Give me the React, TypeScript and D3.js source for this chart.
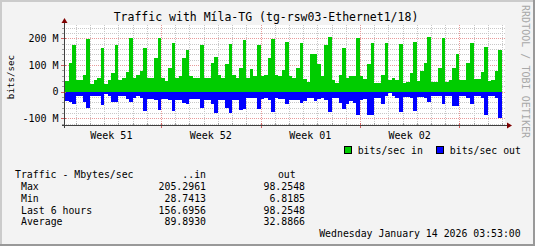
import React from "react";
import * as d3 from "d3";

const W = 535;
const H = 246;

const title = "Traffic with Míla-TG (tg-rsw03-Ethernet1/18)";
const yAxisLabel = "bits/sec";
const watermark = "RRDTOOL / TOBI OETIKER";
const seriesNames = ["bits/sec in", "bits/sec out"];
const seriesColors = ["#00cc00", "#0000ff"];

// 6-hour averages, Mbit/s
const inMbps = [
  40, 109, 175,
  44, 44, 62, 198,
  29, 44, 50, 165,
  30, 44, 69, 175,
  44, 50, 75, 200,
  50, 62, 77, 165,
  52, 50, 127, 202,
  51, 40, 90, 183,
  52, 57, 127, 156,
  58, 50, 50, 175,
  50, 50, 106, 130,
  62, 52, 103, 178,
  62, 52, 90, 195,
  50, 86, 60, 175,
  58, 62, 127, 198,
  62, 58, 80, 187,
  57, 50, 90, 181,
  48, 38, 140, 140,
  103, 58, 175, 204,
  44, 34, 62, 165,
  50, 60, 58, 202,
  60, 48, 103, 181,
  34, 34, 62, 181,
  44, 50, 44, 178,
  34, 38, 69, 187,
  40, 77, 106, 205.3,
  38, 38, 88, 200,
  38, 44, 88, 140,
  44, 44, 106, 181,
  48, 48, 75, 169,
  40, 44, 77, 156.7,
];

const outMbps = [
  35, 40, 45,
  15, 15, 38, 62,
  15, 15, 15, 50,
  10, 15, 40, 40,
  15, 15, 28, 37,
  22, 18, 22, 71,
  28, 28, 30, 70,
  28, 28, 30, 72,
  32, 32, 42, 48,
  28, 28, 28, 60,
  32, 32, 45, 81,
  32, 32, 60, 81,
  30, 30, 70, 65,
  25, 25, 25, 65,
  28, 25, 30, 78,
  25, 28, 28, 48,
  32, 32, 32, 44,
  34, 25, 22, 35,
  28, 22, 30, 76,
  25, 25, 42, 65,
  48, 35, 42, 87,
  33, 28, 87, 87,
  22, 22, 45, 15,
  6.8, 18, 25, 78,
  20, 20, 25, 72,
  20, 20, 25, 40,
  16, 16, 16, 45,
  18, 18, 52, 52,
  16, 16, 25, 45,
  16, 16, 22, 87,
  18, 18, 25, 98.25,
];

const yMajorTicks = [-100, 0, 100, 200];
const yMajorLabels = ["-100 M", "0", "100 M", "200 M"];
const yMinorStep = 20;

const statHeader = ["Traffic - Mbytes/sec", "..in", "out"];
const statRows = ["Max", "Min", "Last 6 hours", "Average"];
const statIn = ["205.2961", "28.7413", "156.6956", "89.8930"];
const statOut = ["98.2548", "6.8185", "98.2548", "32.8866"];
const timestamp = "Wednesday January 14 2026 03:53:00";

const viewStart = new Date(Date.UTC(2025, 11, 15, 4));
const viewEnd = new Date(Date.UTC(2026, 0, 15, 0));
const stepMs = 6 * 3600 * 1000;

const MONO = "'DejaVu Sans Mono', monospace";

export default function App() {
  const x = d3.scaleUtc().domain([viewStart, viewEnd]).range([64, 502]);
  const y = d3.scaleLinear().domain([-125, 250]).range([125, 25]);
  const X0 = 64;
  const X1 = 502;
  const Y0 = 125;
  const Y1 = 25;

  const n = inMbps.length;
  const times = d3.range(n + 1).map((i) => new Date(viewEnd.getTime() - (n - i) * stepMs));
  const inPts = times.map((t, i) => ({ t, v: inMbps[Math.min(i, n - 1)] }));
  const outPts = times.map((t, i) => ({ t, v: outMbps[Math.min(i, n - 1)] }));

  const areaIn = d3
    .area<{ t: Date; v: number }>()
    .x((d) => Math.round(x(d.t)))
    .y0(() => Math.round(y(0)))
    .y1((d) => Math.round(y(d.v)))
    .curve(d3.curveStepAfter);
  const areaOut = d3
    .area<{ t: Date; v: number }>()
    .x((d) => Math.round(x(d.t)))
    .y0(() => Math.round(y(0)))
    .y1((d) => Math.round(y(-d.v)))
    .curve(d3.curveStepAfter);

  const weeks = d3.utcMonday.range(d3.utcMonday.floor(viewStart), viewEnd);
  const weekSet = new Set(weeks.map((d) => d.getTime()));
  const days = d3.utcDay
    .range(d3.utcDay.ceil(viewStart), new Date(viewEnd.getTime() + 1))
    .filter((d) => !weekSet.has(d.getTime()));
  const majorV = weeks.filter((d) => x(d) > X0);
  const weekFmt = d3.utcFormat("%V");
  const weekLabels = weeks
    .map((d) => ({ d, c: x(new Date(d.getTime() + 3.5 * 86400000)) }))
    .filter((o) => o.c > X0 && o.c < X1);

  const minorH = d3.range(-120, 250, yMinorStep).filter((v) => v % 100 !== 0);

  const px = (v: number) => Math.round(v) + 0.5;
  const gridMinor = "#c8c8c8";
  const gridMajor = "#e89a9a";

  return (
    <div style={{ position: "fixed", left: 0, top: 0 }}>
      <svg width={W} height={H} xmlns="http://www.w3.org/2000/svg" style={{ display: "block" }}>
        <rect x={0} y={0} width={W} height={H} fill="#f3f3f3" />
        {/* frame shading */}
        <rect x={0} y={0} width={W} height={2} fill="#cbcbcb" />
        <rect x={0} y={0} width={2} height={H} fill="#cbcbcb" />
        <rect x={W - 2} y={0} width={2} height={H} fill="#999999" />
        <rect x={0} y={H - 2} width={W} height={2} fill="#999999" />

        {/* canvas */}
        <rect x={X0} y={Y1} width={X1 - X0 + 3} height={Y0 - Y1} fill="#ffffff" />

        {/* grid */}
        <g shapeRendering="crispEdges" strokeWidth={1} strokeDasharray="1,1">
          {minorH.map((v) => (
            <line key={"mh" + v} x1={X0} x2={X1 + 3} y1={px(y(v))} y2={px(y(v))} stroke={gridMinor} />
          ))}
          {days.map((d) => (
            <line key={"md" + d.getTime()} x1={px(x(d))} x2={px(x(d))} y1={Y1} y2={Y0} stroke={gridMinor} />
          ))}
          {yMajorTicks.map((v) => (
            <line key={"Mh" + v} x1={X0} x2={X1 + 3} y1={px(y(v))} y2={px(y(v))} stroke={gridMajor} />
          ))}
          {majorV.map((d) => (
            <line key={"Mv" + d.getTime()} x1={px(x(d))} x2={px(x(d))} y1={Y1} y2={Y0} stroke={gridMajor} />
          ))}
        </g>

        {/* data */}
        <g shapeRendering="crispEdges">
          <path d={areaIn(inPts) || ""} fill={seriesColors[0]} />
          <path d={areaOut(outPts) || ""} fill={seriesColors[1]} />
        </g>

        {/* axis ticks */}
        <g shapeRendering="crispEdges" strokeWidth={1}>
          {days.map((d) => (
            <line key={"td" + d.getTime()} x1={px(x(d))} x2={px(x(d))} y1={Y0 - 2} y2={Y0} stroke="#a0a0a0" />
          ))}
          {majorV.map((d) => (
            <line key={"tM" + d.getTime()} x1={px(x(d))} x2={px(x(d))} y1={Y0 - 2} y2={Y0 + 3} stroke="#d06060" />
          ))}
          {minorH.map((v) => (
            <line key={"ty" + v} x1={X0 - 2} x2={X0} y1={px(y(v))} y2={px(y(v))} stroke="#a0a0a0" />
          ))}
          {yMajorTicks.map((v) => (
            <line key={"tyM" + v} x1={X0 - 3} x2={X0 + 2} y1={px(y(v))} y2={px(y(v))} stroke="#d06060" />
          ))}
        </g>

        {/* axes */}
        <g shapeRendering="crispEdges">
          <line x1={X0 - 2} x2={X1 + 5} y1={Y0 + 0.5} y2={Y0 + 0.5} stroke="#404040" />
          <line x1={X0 + 0.5} x2={X0 + 0.5} y1={Y0 + 3} y2={Y1 - 4} stroke="#404040" />
        </g>
        <path d={`M${X1 + 5},${Y0 - 2.5} L${X1 + 10},${Y0 + 0.5} L${X1 + 5},${Y0 + 3.5} Z`} fill="#7f0000" />
        <path d={`M${X0 - 2.5},${Y1 - 2} L${X0 + 0.5},${Y1 - 7} L${X0 + 3.5},${Y1 - 2} Z`} fill="#7f0000" />

        {/* title */}
        <text x={266} y={21} textAnchor="middle" fontFamily={MONO} fontSize={11.5} fill="#000">
          {title}
        </text>

        {/* y labels */}
        {yMajorTicks.map((v, i) => (
          <text key={"yl" + v} x={58.5} y={y(v) + 3.7} textAnchor="end" fontFamily={MONO} fontSize={10} fill="#000">
            {yMajorLabels[i]}
          </text>
        ))}
        <text
          transform={`translate(14,77) rotate(-90)`}
          textAnchor="middle"
          fontFamily={MONO}
          fontSize={9.2}
          fill="#000"
        >
          {yAxisLabel}
        </text>

        {/* week labels */}
        {weekLabels.map((o) => (
          <text key={"wl" + o.d.getTime()} x={o.c} y={139} textAnchor="middle" fontFamily={MONO} fontSize={10} fill="#000">
            {"Week " + weekFmt(o.d)}
          </text>
        ))}

        {/* legend */}
        <rect x={344.5} y={146.5} width={7} height={7} fill={seriesColors[0]} stroke="#000" shapeRendering="crispEdges" />
        <text x={357.7} y={154.2} fontFamily={MONO} fontSize={9.85} fill="#000">
          {seriesNames[0]}
        </text>
        <rect x={436.5} y={146.5} width={7} height={7} fill={seriesColors[1]} stroke="#000" shapeRendering="crispEdges" />
        <text x={449.8} y={154.2} fontFamily={MONO} fontSize={9.85} fill="#000">
          {seriesNames[1]}
        </text>

        {/* stats */}
        <g fontFamily={MONO} fontSize={9.85} fill="#000">
          <text x={15} y={177.7}>{statHeader[0]}</text>
          <text x={206} y={177.7} textAnchor="end">{statHeader[1]}</text>
          <text x={295.7} y={177.7} textAnchor="end">{statHeader[2]}</text>
          {statRows.map((r, i) => (
            <g key={r}>
              <text x={21} y={189.7 + i * 11.9}>{r}</text>
              <text x={206} y={189.7 + i * 11.9} textAnchor="end">{statIn[i]}</text>
              <text x={305} y={189.7 + i * 11.9} textAnchor="end">{statOut[i]}</text>
            </g>
          ))}
          <text x={520.7} y={236.6} textAnchor="end">{timestamp}</text>
        </g>

        {/* watermark */}
        <text
          transform={`translate(522,5) rotate(90)`}
          fontFamily={MONO}
          fontSize={10}
          fill="#a8a8a8"
          textLength={133}
          lengthAdjust="spacing"
        >
          {watermark}
        </text>
      </svg>
    </div>
  );
}
